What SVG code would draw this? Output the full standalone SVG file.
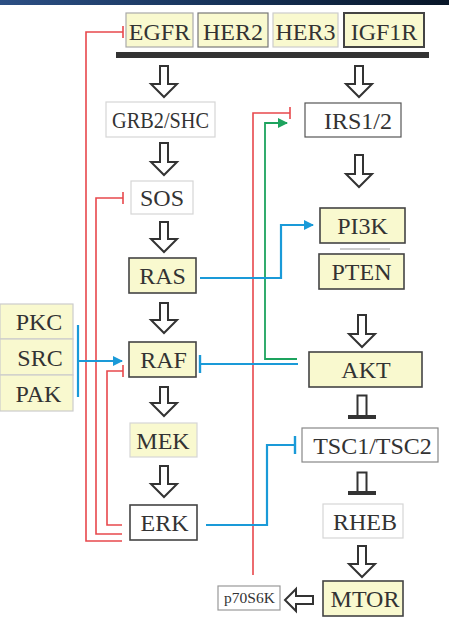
<svg xmlns="http://www.w3.org/2000/svg" width="449" height="620" viewBox="0 0 449 620">
<defs>
<linearGradient id="topbar" x1="0" y1="0" x2="1" y2="0">
<stop offset="0" stop-color="#2c4f84"/>
<stop offset="0.5" stop-color="#163258"/>
<stop offset="1" stop-color="#081628"/>
</linearGradient>
<marker id="teeRed" markerUnits="userSpaceOnUse" markerWidth="4" markerHeight="12" refX="2" refY="6" orient="auto"><path d="M2,0 V12" stroke="#e8484c" stroke-width="1.6"/></marker>
<marker id="teeBlue" markerUnits="userSpaceOnUse" markerWidth="4" markerHeight="20" refX="2" refY="10" orient="auto"><path d="M2,1 V19" stroke="#1a9ad8" stroke-width="2.4"/></marker>
<marker id="arrBlue" markerUnits="userSpaceOnUse" markerWidth="10" markerHeight="10" refX="9" refY="5" orient="auto"><path d="M0,0 L10,5 L0,10 Z" fill="#1a9ad8"/></marker>
<marker id="arrGreen" markerUnits="userSpaceOnUse" markerWidth="10" markerHeight="10" refX="9" refY="5" orient="auto"><path d="M0,0 L10,5 L0,10 Z" fill="#1da35e"/></marker>
</defs>
<style>
.box{fill:#ffffff;stroke:#bbbbbb;stroke-width:1.2}
.y{fill:#f9f9cf}
.dk{stroke:#444444;stroke-width:1.6}
.md{stroke:#888888}
.lt{stroke:#d6d6d6}
text{font-family:"Liberation Serif","Times New Roman",serif;font-size:24px;fill:#333333;text-anchor:middle}
.hol{fill:#ffffff;stroke:#333333;stroke-width:2;stroke-linejoin:miter}
.red{fill:none;stroke:#e8484c;stroke-width:1.6}
.blue{fill:none;stroke:#1a9ad8;stroke-width:2.2}
.green{fill:none;stroke:#1da35e;stroke-width:1.8}
</style>
<rect x="0" y="0" width="449" height="5" fill="url(#topbar)"/>
<rect x="116" y="52" width="313" height="6" fill="#333333"/>

<g id="connectors">
<path class="red" d="M122,541 H86 V32 H123" marker-end="url(#teeRed)"/>
<path class="red" d="M122,534 H96 V198 H123" marker-end="url(#teeRed)"/>
<path class="red" d="M122,525 H107 V371 H123" marker-end="url(#teeRed)"/>
<path class="red" d="M253,575 V113 H290" marker-end="url(#teeRed)"/>
<path class="green" d="M297,359 H265 V123 H287" marker-end="url(#arrGreen)"/>
<path class="blue" d="M200,278 H281 V225 H313" marker-end="url(#arrBlue)"/>
<path class="blue" d="M78,325 V397"/>
<path class="blue" d="M78,361 H122" marker-end="url(#arrBlue)"/>
<path class="blue" d="M298,364 H200" marker-end="url(#teeBlue)"/>
<path class="blue" d="M206,525 H267 V445 H295" marker-end="url(#teeBlue)"/>
<g id="hollow-arrows">
<path class="hol" d="M160,66 H168 V84 H177 L164,97 L151,84 H160 Z"/>
<path class="hol" d="M355,66 H363 V84 H372 L359,97 L346,84 H355 Z"/>
<path class="hol" d="M160,143 H168 V162 H177 L164,175 L151,162 H160 Z"/>
<path class="hol" d="M355,155 H363 V174 H372 L359,187 L346,174 H355 Z"/>
<path class="hol" d="M160,222 H168 V239 H177 L164,252 L151,239 H160 Z"/>
<path class="hol" d="M160,303 H168 V320 H177 L164,333 L151,320 H160 Z"/>
<path class="hol" d="M358,315 H366 V334 H375 L362,347 L349,334 H358 Z"/>
<path class="hol" d="M160,387 H168 V403 H177 L164,416 L151,403 H160 Z"/>
<path class="hol" d="M160,466 H168 V484 H177 L164,497 L151,484 H160 Z"/>
<path class="hol" d="M358,546 H366 V564 H375 L362,577 L349,564 H358 Z"/>
<path class="hol" d="M313,596 V604 H296 V611 L285,600 L296,589 V596 Z"/>
</g>
<g id="inhibit-tees">
<rect x="357.5" y="395.5" width="9" height="21" fill="#ffffff" stroke="#333333" stroke-width="2"/>
<rect x="348" y="415" width="28" height="4" fill="#333333"/>
<rect x="357.5" y="472.5" width="9" height="20" fill="#ffffff" stroke="#333333" stroke-width="2"/>
<rect x="348" y="491" width="28" height="4" fill="#333333"/>
</g>
<line x1="340" y1="249" x2="390" y2="249" stroke="#999999" stroke-width="1.2"/>
</g>

<g id="EGFR"><rect class="box y" x="126" y="13" width="67" height="34" style="stroke:#aaaaaa"/><text x="159.5" y="40">EGFR</text></g>
<g id="HER2"><rect class="box y" x="198" y="13" width="70" height="34" style="stroke:#777777"/><text x="233" y="40">HER2</text></g>
<g id="HER3"><rect class="box y" x="273" y="13" width="65" height="34" style="stroke:#cccccc"/><text x="305.5" y="40">HER3</text></g>
<g id="IGF1R"><rect class="box y" x="344" y="13" width="80" height="34" style="stroke:#444444;stroke-width:2"/><text x="384" y="40">IGF1R</text></g>

<g id="GRB2SHC"><rect class="box lt" x="106" y="102" width="109" height="35"/><text x="160.5" y="128" textLength="97" lengthAdjust="spacingAndGlyphs">GRB2/SHC</text></g>
<g id="IRS12"><rect class="box" x="305" y="103" width="96" height="34" style="stroke:#555555"/><text x="358" y="129">IRS1/2</text></g>
<g id="SOS"><rect class="box lt" x="131" y="181" width="62" height="33"/><text x="162" y="206">SOS</text></g>
<g id="RAS"><rect class="box y dk" x="129" y="258" width="67" height="35"/><text x="162.5" y="284">RAS</text></g>
<g id="PI3K"><rect class="box y dk" x="320" y="208" width="85" height="35"/><text x="362.5" y="234">PI3K</text></g>
<g id="PTEN"><rect class="box y dk" x="319" y="254" width="85" height="35"/><text x="361.5" y="280">PTEN</text></g>
<g id="PKC"><rect class="box y" x="0" y="304" width="73" height="35" style="stroke:#cccccc"/><text x="39" y="330">PKC</text></g>
<g id="SRC"><rect class="box y" x="0" y="339" width="73" height="36" style="stroke:#cccccc"/><text x="40" y="366">SRC</text></g>
<g id="PAK"><rect class="box y" x="0" y="375" width="73" height="36" style="stroke:#cccccc"/><text x="38.5" y="402">PAK</text></g>
<g id="RAF"><rect class="box y dk" x="129" y="342" width="67" height="35"/><text x="163.5" y="368">RAF</text></g>
<g id="AKT"><rect class="box y dk" x="309" y="352" width="113" height="35"/><text x="366" y="378">AKT</text></g>
<g id="MEK"><rect class="box y lt" x="130" y="423" width="67" height="34"/><text x="163" y="449">MEK</text></g>
<g id="TSC"><rect class="box md" x="302" y="428" width="136" height="34"/><text x="372.5" y="454">TSC1/TSC2</text></g>
<g id="ERK"><rect class="box dk" x="130" y="505" width="67" height="35"/><text x="164.5" y="531">ERK</text></g>
<g id="RHEB"><rect class="box lt" x="323" y="504" width="80" height="34"/><text x="365" y="530">RHEB</text></g>
<g id="MTOR"><rect class="box y dk" x="323" y="581" width="80" height="35"/><text x="365" y="607">MTOR</text></g>
<g id="p70S6K"><rect class="box" x="218" y="586" width="62" height="24" style="stroke:#999999"/><text x="249.5" y="603" style="font-size:15.5px">p70S6K</text></g>
</svg>
